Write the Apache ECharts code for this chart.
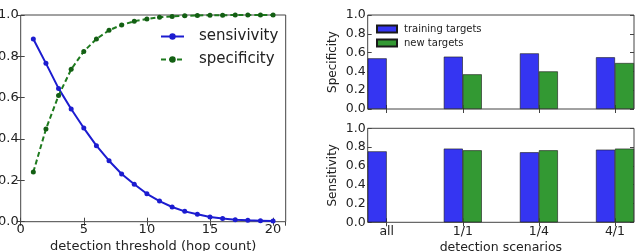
<!DOCTYPE html>
<html>
<head>
<meta charset="utf-8">
<title>detection</title>
<script src="https://cdn.jsdelivr.net/npm/echarts@6/dist/echarts.min.js"></script>
<style>
  * { margin: 0; padding: 0 }
  html, body { width: 100%; height: 100%; background: #fff; }
  #main { width: 635px; height: 251px; }
</style>
</head>
<body>
<div id="main"></div>
<script type="text/javascript">
// left chart: threshold sweep
var thresholds = [1, 2, 3, 4, 5, 6, 7, 8, 9, 10, 11, 12, 13, 14, 15, 16, 17, 18, 19, 20];
var sensitivity = [0.884, 0.766, 0.645, 0.545, 0.453, 0.368, 0.295, 0.231, 0.181, 0.135,
  0.100, 0.071, 0.050, 0.036, 0.023, 0.015, 0.010, 0.007, 0.005, 0.003];
var specificity = [0.240, 0.448, 0.610, 0.737, 0.824, 0.884, 0.926, 0.952, 0.970, 0.981,
  0.989, 0.993, 0.996, 0.998, 0.999, 0.999, 1.0, 1.0, 1.0, 1.0];

// right charts: scenarios
var scenarios = ['all', '1/1', '1/4', '4/1'];
var specTraining = [0.539, 0.557, 0.592, 0.550];
var specNew = [null, 0.369, 0.400, 0.489];
var sensTraining = [0.755, 0.784, 0.745, 0.773];
var sensNew = [null, 0.766, 0.766, 0.784];

var font = 'DejaVu Sans';
var txt = '#222';
var edge = '#444';

function pairs(xs, ys) {
  return xs.map(function (x, i) { return [x, ys[i]]; });
}
// each scenario takes every other slot, empty slots between them
function slots(arr, filler) {
  var out = [];
  arr.forEach(function (v, i) {
    out.push(v);
    if (i < arr.length - 1) out.push(filler);
  });
  return out;
}
var slotCats = slots(scenarios, '').map(function (c, i) { return c === '' ? '_' + i : c; });

var chart = echarts.init(document.getElementById('main'));

function yAxisFor(grid, name, size) {
  return {
    type: 'value', gridIndex: grid, min: 0, max: 1, interval: 0.2,
    name: name, nameLocation: 'middle', nameGap: 29,
    nameTextStyle: { fontFamily: font, fontSize: 12, color: txt },
    axisLine: { show: false },
    axisTick: { show: true, inside: true, length: 4, lineStyle: { color: edge } },
    axisLabel: { fontFamily: font, fontSize: size, color: txt, margin: 2,
      formatter: function (v) { return v.toFixed(1); } },
    splitLine: { show: false }
  };
}
function rightTicks(grid) {
  return { type: 'value', gridIndex: grid, min: 0, max: 1, interval: 0.2, position: 'right',
    axisLine: { show: false },
    axisTick: { show: true, inside: true, length: 4, lineStyle: { color: edge } },
    axisLabel: { show: false }, splitLine: { show: false } };
}
function catAxis(grid, pos, labels, name) {
  return {
    type: 'category', gridIndex: grid, position: pos, data: slotCats,
    name: name || '', nameLocation: 'middle', nameGap: 19,
    nameTextStyle: { fontFamily: font, fontSize: 12.5, color: txt },
    axisLine: { show: false },
    axisTick: { show: true, inside: true, length: 4, alignWithLabel: true,
      interval: function (i) { return i % 2 === 0; }, lineStyle: { color: edge } },
    axisLabel: { show: labels, fontFamily: font, fontSize: 12.5, color: txt, margin: 3,
      interval: 0, formatter: function (v) { return v.charAt(0) === '_' ? '' : v; } },
    splitLine: { show: false }
  };
}
function barStyle(c) {
  return { color: c, borderColor: '#1a1a1a', borderWidth: 0.6 };
}
var gridBase = { show: true, borderColor: edge, borderWidth: 1, backgroundColor: 'transparent',
  outerBoundsMode: 'none', containLabel: false };

chart.setOption({
  animation: false,
  textStyle: { fontFamily: font },
  grid: [
    Object.assign({ left: 20.7, top: 15, width: 265, height: 206.7 }, gridBase),
    Object.assign({ left: 367.7, top: 15, width: 266.3, height: 94 }, gridBase),
    Object.assign({ left: 367.7, top: 128.3, width: 266.3, height: 94 }, gridBase)
  ],
  legend: [
    {
      left: 160, top: 29, padding: 0, itemWidth: 23, itemHeight: 8, itemGap: 8, orient: 'vertical',
      data: ['sensivivity', 'specificity'],
      textStyle: { fontFamily: font, fontSize: 15, color: txt, padding: [0, 0, 0, 10] }
    },
    {
      left: 376, top: 24, padding: 0, itemWidth: 20, itemHeight: 7, itemGap: 4, orient: 'vertical',
      icon: 'rect',
      data: ['training targets', 'new targets'],
      textStyle: { fontFamily: font, fontSize: 10, color: txt, lineHeight: 10, padding: [0, 0, 0, 2] }
    }
  ],
  xAxis: [
    { type: 'value', gridIndex: 0, min: 0, max: 21, interval: 5,
      name: 'detection threshold (hop count)', nameLocation: 'middle', nameGap: 18,
      nameTextStyle: { fontFamily: font, fontSize: 13, color: txt },
      axisLine: { show: false },
      axisTick: { show: true, inside: true, length: 4, lineStyle: { color: edge } },
      axisLabel: { fontFamily: font, fontSize: 13, color: txt, margin: 1, showMaxLabel: false,
        formatter: function (v) { return v === 21 ? '' : String(v); } },
      splitLine: { show: false } },
    { type: 'value', gridIndex: 0, min: 0, max: 21, interval: 5, position: 'top',
      axisLine: { show: false },
      axisTick: { show: true, inside: true, length: 4, lineStyle: { color: edge } },
      axisLabel: { show: false }, splitLine: { show: false } },
    catAxis(1, 'bottom', false),
    catAxis(1, 'top', false),
    catAxis(2, 'bottom', true, 'detection scenarios'),
    catAxis(2, 'top', false)
  ],
  yAxis: [
    yAxisFor(0, '', 13),
    rightTicks(0),
    yAxisFor(1, 'Specificity', 12.5),
    rightTicks(1),
    yAxisFor(2, 'Sensitivity', 12.5),
    rightTicks(2)
  ],
  series: [
    { name: 'sensivivity', type: 'line', xAxisIndex: 0, yAxisIndex: 0,
      data: pairs(thresholds, sensitivity), symbol: 'circle', symbolSize: 5,
      lineStyle: { color: '#1c1cd0', width: 2 }, itemStyle: { color: '#1c1cd0' } },
    { name: 'specificity', type: 'line', xAxisIndex: 0, yAxisIndex: 0,
      data: pairs(thresholds, specificity), symbol: 'circle', symbolSize: 5,
      lineStyle: { color: '#1e7a1e', width: 2, type: [5, 3] }, itemStyle: { color: '#135f13' } },
    { name: 'training targets', type: 'bar', xAxisIndex: 2, yAxisIndex: 2,
      data: slots(specTraining, null), barWidth: 19, barGap: '0%', itemStyle: barStyle('#3535f2') },
    { name: 'new targets', type: 'bar', xAxisIndex: 2, yAxisIndex: 2,
      data: slots(specNew, null), barWidth: 19, barGap: '0%', itemStyle: barStyle('#339933') },
    { name: 'training targets', type: 'bar', xAxisIndex: 4, yAxisIndex: 4,
      data: slots(sensTraining, null), barWidth: 19, barGap: '0%', itemStyle: barStyle('#3535f2') },
    { name: 'new targets', type: 'bar', xAxisIndex: 4, yAxisIndex: 4,
      data: slots(sensNew, null), barWidth: 19, barGap: '0%', itemStyle: barStyle('#339933') }
  ]
});
</script>
</body>
</html>
